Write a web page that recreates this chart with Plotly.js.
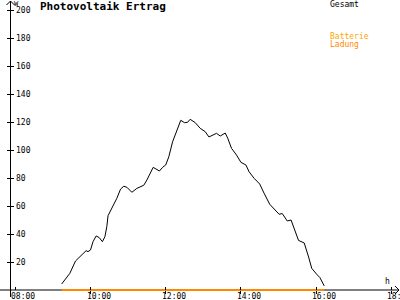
<!DOCTYPE html>
<html><head><meta charset="utf-8">
<script src="https://cdn.plot.ly/plotly-3.0.1.min.js"></script>
<style>html,body{margin:0;padding:0;background:#fff}#c{width:400px;height:300px}</style>
</head><body><div id="c"></div>
<script>
const times = ["09:14","09:27","09:36","09:46","09:53","09:56","10:00","10:04","10:09","10:14","10:19","10:23","10:26","10:28","10:34","10:42","10:48","10:53","10:58","11:06","11:14","11:25","11:30","11:35","11:40","11:50","11:55","12:00","12:05","12:11","12:16","12:24","12:30","12:35","12:39","12:47","12:55","13:03","13:09","13:15","13:21","13:27","13:35","13:39","13:45","13:53","14:00","14:08","14:13","14:21","14:30","14:37","14:46","15:01","15:06","15:14","15:20","15:32","15:41","15:48","15:53","16:01","16:06","16:13"];
const gesamt = [4.3,11.9,20.7,25,28.1,27.4,28.6,34.5,38.6,37.4,34.5,38.1,45.2,53.1,58.4,65.5,72.1,74.1,73.4,69.8,72.6,74.8,78.6,82.9,87.6,85,87.6,89.3,95.2,105.9,112.4,121.2,119.5,119.8,121.9,119.6,115.5,113.1,109.3,110.7,111.9,110,112.1,108.4,101.2,96.4,91.2,89.3,84.5,79.8,75.7,69.1,61.2,54.1,54.6,49.3,50,35.4,33.6,23.6,15.5,11.2,8.9,2.9];
const ladungTimes = ["09:14","16:13"];
const ladung = [0,0];
const xTickVals = [8,10,12,14,16,18];
const xTickText = ["08:00","10:00","12:00","14:00","16:00","18:00"];
const yTickVals = [20,40,60,80,100,120,140,160,180,200];

function toHours(s){const p=s.split(":");return +p[0]+(+p[1])/60;}

const W=400,H=300;
const font = {family:"DejaVu Sans Mono", size:8, color:"#000"};
const xr=[7.593,18.231], yr=[-7.14,207.14];
const px=v=>v/W, py=v=>1-v/H;

const traces=[
 {x:ladungTimes.map(toHours), y:ladung, mode:"lines", line:{color:"#FF8800",width:2}, hoverinfo:"skip"},
 {x:times.map(toHours), y:gesamt, mode:"lines", line:{color:"#000",width:1}, hoverinfo:"skip"}
];
const axX = {range:xr, anchor:"free", position:10/H, showgrid:false, zeroline:false, showline:false,
  tickmode:"array", tickvals:xTickVals, ticks:"outside", ticklen:3, tickcolor:"#000",
  showticklabels:false, fixedrange:true};
const axY = {range:yr, anchor:"free", position:10/W, showgrid:false, zeroline:false, showline:false,
  tickmode:"array", tickvals:yTickVals, ticks:"outside", ticklen:3, tickcolor:"#000",
  tickfont:font, ticklabelposition:"inside", ticklabelstandoff:2, fixedrange:true};
const xLabelAnn = xTickVals.map((v,i)=>({text:xTickText[i],xref:"x",yref:"paper",x:v,y:py(296),xshift:8,
  xanchor:"center",yanchor:"middle",showarrow:false,font:font}));
const layout={
 width:W,height:H,margin:{l:0,r:0,t:0,b:0},paper_bgcolor:"#fff",plot_bgcolor:"#fff",showlegend:false,
 xaxis:axX, yaxis:axY,
 xaxis2:{range:xr, overlaying:"x", anchor:"free", position:10/H, showgrid:false, zeroline:false, showline:false,
   tickmode:"array", tickvals:xTickVals, ticks:"inside", ticklen:3, tickcolor:"#000", showticklabels:false},
 yaxis2:{range:yr, overlaying:"y", anchor:"free", position:10/W, showgrid:false, zeroline:false, showline:false,
   tickmode:"array", tickvals:yTickVals, ticks:"inside", ticklen:3, tickcolor:"#000", showticklabels:false},
 shapes:[
  {type:"line",xref:"paper",yref:"paper",x0:0,x1:px(399),y0:py(290),y1:py(290),line:{color:"#000",width:1},layer:"below"},
  {type:"line",xref:"paper",yref:"paper",x0:px(10.5),x1:px(10.5),y0:py(297),y1:py(1),line:{color:"#000",width:1},layer:"below"},
  {type:"path",xref:"paper",yref:"paper",path:`M${px(395)},${py(286)} L${px(399)},${py(290)} L${px(395)},${py(294)}`,line:{color:"#000",width:1}},
  {type:"path",xref:"paper",yref:"paper",path:`M${px(6.5)},${py(5)} L${px(10.5)},${py(1)} L${px(14.5)},${py(5)}`,line:{color:"#000",width:1}}
 ],
 annotations:xLabelAnn.concat([
  {text:"<b>Photovoltaik Ertrag</b>",xref:"paper",yref:"paper",x:px(38),y:py(7),xanchor:"left",yanchor:"middle",showarrow:false,font:{family:"DejaVu Sans Mono",size:11,color:"#000"}},
  {text:"W",xref:"paper",yref:"paper",x:px(12),y:py(4),xanchor:"left",yanchor:"middle",showarrow:false,font:{family:"DejaVu Sans Mono",size:7,color:"#000"}},
  {text:"h",xref:"paper",yref:"paper",x:px(387),y:py(281),xanchor:"center",yanchor:"middle",showarrow:false,font:font},
  {text:"Gesamt",xref:"paper",yref:"paper",x:px(328),y:py(4.5),xanchor:"left",yanchor:"middle",showarrow:false,font:font},
  {text:"Batterie",xref:"paper",yref:"paper",x:px(328),y:py(36),xanchor:"left",yanchor:"middle",showarrow:false,font:{family:"DejaVu Sans Mono",size:8,color:"#FFA500"}},
  {text:"Ladung",xref:"paper",yref:"paper",x:px(328),y:py(44),xanchor:"left",yanchor:"middle",showarrow:false,font:{family:"DejaVu Sans Mono",size:8,color:"#FF8800"}}
 ])
};
traces.push({x:[xr[0]],y:[yr[0]],xaxis:"x2",yaxis:"y2",mode:"markers",marker:{opacity:0},hoverinfo:"skip"});
Plotly.newPlot("c",traces,layout,{staticPlot:true,displayModeBar:false});
</script></body></html>
